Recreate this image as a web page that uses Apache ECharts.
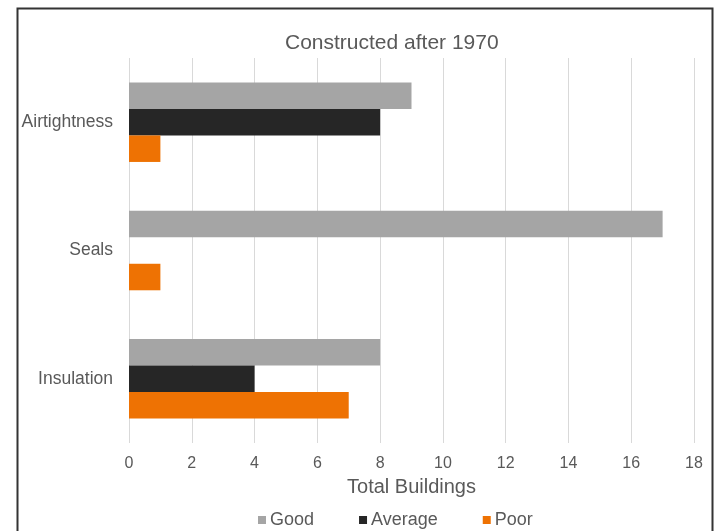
<!DOCTYPE html>
<html>
<head>
<meta charset="utf-8">
<script src="https://cdn.jsdelivr.net/npm/echarts@6/dist/echarts.min.js"></script>
<style>
html,body{margin:0;padding:0;background:#fff;}
#chart{width:715px;height:531px;}
</style>
</head>
<body>
<div id="chart"></div>
<script>
var categories = ['Airtightness', 'Seals', 'Insulation'];
var seriesNames = ['Good', 'Average', 'Poor'];
var goodValues = [9, 17, 8];
var averageValues = [8, 0, 4];
var poorValues = [1, 1, 7];
var xTicks = [0, 2, 4, 6, 8, 10, 12, 14, 16, 18];

var colors = ['#A5A5A5', '#262626', '#EE7203'];
var font = 'Liberation Sans, Arial, sans-serif';

var chart = echarts.init(document.getElementById('chart'));
chart.setOption({
  animation: false,
  backgroundColor: '#fff',
  color: colors,
  title: {
    text: 'Constructed after 1970',
    left: 280,
    top: 28,
    textStyle: {fontFamily: font, fontSize: 21, fontWeight: 'normal', color: '#595959'}
  },
  legend: {
    data: seriesNames,
    left: 258,
    top: 511,
    padding: 0,
    itemWidth: 8,
    itemHeight: 8,
    itemGap: 45,
    icon: 'rect',
    textStyle: {fontFamily: font, fontSize: 18, color: '#595959', padding: [0, 0, 0, -1]}
  },
  grid: {left: 129, right: 21, top: 58, bottom: 88, containLabel: false},
  xAxis: {
    type: 'value',
    min: xTicks[0],
    max: xTicks[xTicks.length - 1],
    interval: 2,
    name: 'Total Buildings',
    nameLocation: 'middle',
    nameGap: 34,
    nameTextStyle: {fontFamily: font, fontSize: 20, color: '#595959'},
    axisLine: {show: false},
    axisTick: {show: false},
    axisLabel: {fontFamily: font, fontSize: 16, color: '#595959', margin: 13},
    splitLine: {show: true, lineStyle: {color: '#D9D9D9', width: 1}}
  },
  yAxis: {
    type: 'category',
    data: categories,
    inverse: true,
    axisLine: {show: false},
    axisTick: {show: false},
    axisLabel: {fontFamily: font, fontSize: 17.5, color: '#595959', margin: 16},
    splitLine: {show: false}
  },
  series: [
    {name: seriesNames[0], type: 'bar', data: goodValues, barGap: '0%', barCategoryGap: '38%', itemStyle: {color: colors[0]}},
    {name: seriesNames[1], type: 'bar', data: averageValues, barGap: '0%', barCategoryGap: '38%', itemStyle: {color: colors[1]}},
    {name: seriesNames[2], type: 'bar', data: poorValues, barGap: '0%', barCategoryGap: '38%', itemStyle: {color: colors[2]}}
  ],
  graphic: [{
    type: 'rect',
    left: 15, top: 6,
    shape: {x: 0, y: 0, width: 695, height: 540},
    style: {fill: 'none', stroke: '#333', lineWidth: 2},
    silent: true
  }]
});
</script>
</body>
</html>
